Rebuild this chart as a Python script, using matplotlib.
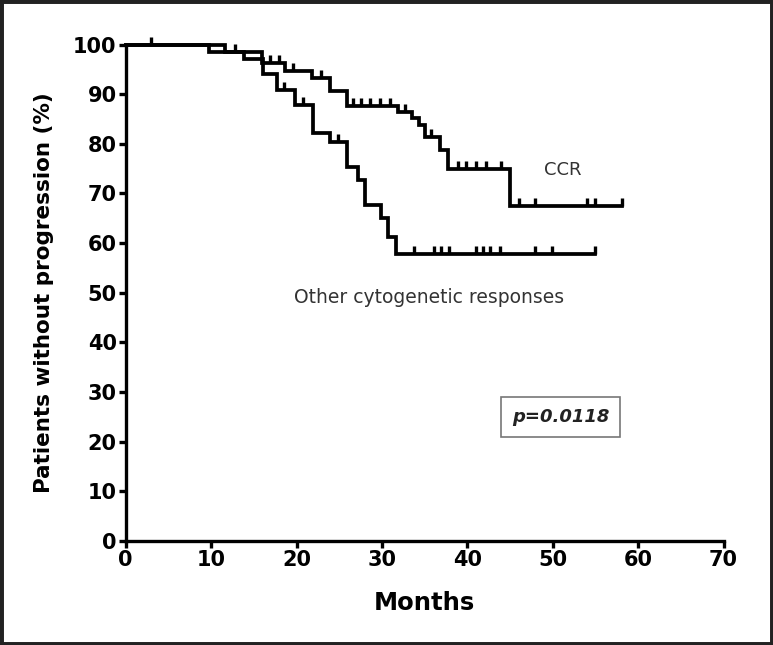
import matplotlib
matplotlib.use("Agg")
import matplotlib.pyplot as plt
import numpy as np
from matplotlib.patches import Rectangle
from matplotlib.path import Path

# Kaplan-Meier steps (months, % without progression)
ccr_times = [0, 11.6, 16.0, 18.7, 21.8, 23.9, 25.9, 31.9, 33.5, 34.3, 35.0, 36.8, 37.7, 45.0, 58.1]
ccr_surv = [100, 98.5, 96.3, 94.6, 93.3, 90.6, 87.6, 86.5, 85.2, 83.8, 81.3, 78.7, 75.0, 67.5, 67.5]
ccr_censor = [12.8, 16.9, 18.0, 19.6, 22.9, 26.6, 27.6, 28.6, 29.8, 31.0, 32.7, 35.8,
              38.9, 39.9, 41.0, 42.2, 43.9, 46.0, 47.9, 54.0, 55.0, 58.1]

oth_times = [0, 9.7, 13.8, 16.1, 17.7, 19.8, 21.9, 23.9, 25.9, 27.2, 28.0, 29.9, 30.7, 31.7, 55.0]
oth_surv = [100, 98.5, 97.0, 94.0, 90.8, 87.8, 82.1, 80.4, 75.4, 72.7, 67.7, 65.0, 61.3, 57.9, 57.9]
oth_censor = [3.0, 18.5, 20.8, 24.9, 33.8, 36.1, 36.9, 37.8, 41.0, 41.8, 42.7, 43.8, 47.9, 49.9, 55.0]

x_ticks = [0, 10, 20, 30, 40, 50, 60, 70]
y_ticks = [0, 10, 20, 30, 40, 50, 60, 70, 80, 90, 100]

plt.rcParams['font.family'] = ['DejaVu Sans']

fig = plt.figure(figsize=(7.73, 6.45), dpi=100)
ax = fig.add_axes([0.1626, 0.1612, 0.7734, 0.7698])

# censor tick: short line going up from the curve
up_tick = Path([(0, 0), (0, 1)], [Path.MOVETO, Path.LINETO])


def surv_at(times, surv, t):
    i = np.searchsorted(times, t, side="right") - 1
    return np.array(surv)[i]


for times, surv, cens in [(ccr_times, ccr_surv, ccr_censor), (oth_times, oth_surv, oth_censor)]:
    ax.step(times, surv, where="post", color="black", lw=2.7, clip_on=False,
            solid_joinstyle="miter", zorder=3)
    ax.plot(cens, surv_at(times, surv, cens), ls="none", marker=up_tick, ms=11,
            mew=2.4, color="black", clip_on=False, zorder=3)

ax.set_xlim(0, 70)
ax.set_ylim(0, 100)
ax.set_xticks(x_ticks)
ax.set_yticks(y_ticks)
ax.spines["top"].set_visible(False)
ax.spines["right"].set_visible(False)
for s in ["left", "bottom"]:
    ax.spines[s].set_linewidth(2.4)
ax.tick_params(width=2.4, length=5, pad=1.5, labelsize=15)
for lab in ax.get_xticklabels() + ax.get_yticklabels():
    lab.set_fontweight("bold")

ax.set_xlabel("Months", fontsize=17.5, fontweight="bold", labelpad=15)
ax.set_ylabel("Patients without progression (%)", fontsize=15.5, fontweight="bold", labelpad=14)

ax.text(51.2, 74.7, "CCR", fontsize=13, color="#333333", ha="center", va="center")
ax.text(35.5, 49.1, "Other cytogenetic responses", fontsize=13.5, color="#333333",
        ha="center", va="center")
ax.text(50.9, 25.0, "p=0.0118", fontsize=13, fontweight="bold", style="italic",
        color="#222222", ha="center", va="center",
        bbox=dict(boxstyle="square,pad=0.6", fc="white", ec="#777777", lw=1.2))

# dark frame round the whole picture
fig.patches.append(Rectangle((0, 0), 1, 1, transform=fig.transFigure, fill=False,
                             ec="#222222", lw=5))

fig.savefig("out.png", dpi=100)
